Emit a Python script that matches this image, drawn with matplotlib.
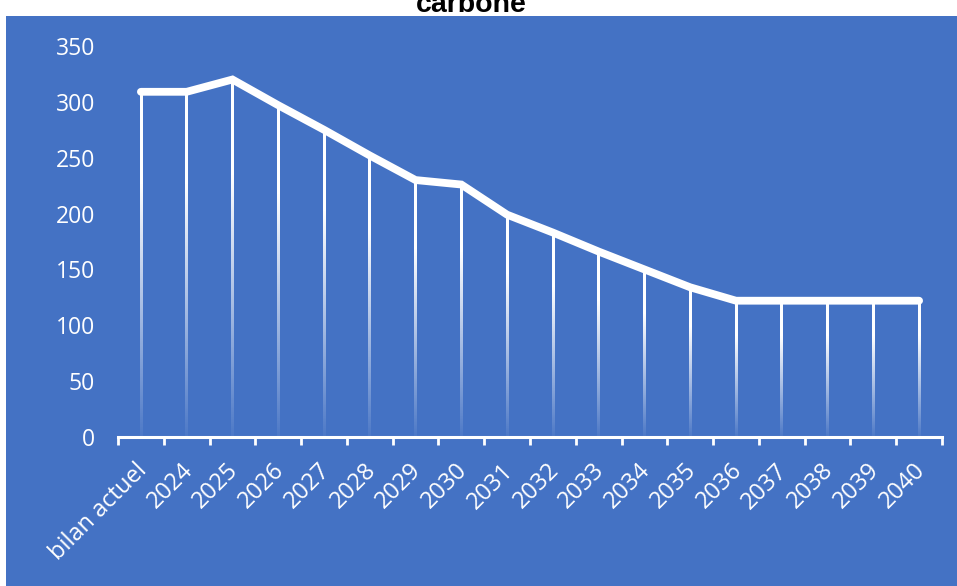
import numpy as np
import matplotlib
matplotlib.use("Agg")
import matplotlib.pyplot as plt
import matplotlib.transforms as mtransforms
from matplotlib.patches import Rectangle

# trajectory of the carbon footprint (tCO2e)
categories = ["bilan actuel", "2024", "2025", "2026", "2027", "2028", "2029", "2030",
              "2031", "2032", "2033", "2034", "2035", "2036", "2037", "2038", "2039", "2040"]
values = [309, 309, 320, 297, 275, 252, 230, 226, 199, 183, 166, 150, 134, 122, 122, 122, 122, 122]
yticks = [0, 50, 100, 150, 200, 250, 300, 350]

BLUE = "#4472C4"
plt.rcParams["font.family"] = ["Open Sans", "DejaVu Sans"]

fig = plt.figure(figsize=(9.57, 5.86), dpi=100)
fig.patch.set_facecolor("white")
fig.patches.append(Rectangle((6 / 957, 0), 1, 570 / 586, transform=fig.transFigure,
                             facecolor=BLUE, edgecolor="none", zorder=-5))
fig.text(0.493, 1 - 12 / 586, "carbone", ha="center", va="baseline",
         fontsize=20.5, fontweight="bold", family="Liberation Sans", color="black")

ax = fig.add_axes([118 / 957, 149 / 586, 824 / 957, 391 / 586])
ax.set_facecolor("none")
x = np.arange(len(categories))

# drop lines: white fading to transparent towards the axis
grad = np.ones((200, 1, 4))
grad[:, 0, 3] = np.clip(0.05 + 1.3 * np.linspace(0, 1, 200), 0, 1)
half_w = 1.3 / (824 / len(categories))
for xi, v in zip(x, values):
    ax.imshow(grad, origin="lower", aspect="auto", interpolation="bilinear",
              extent=(xi - half_w, xi + half_w, 0, v), zorder=2)

ax.plot(x, values, color="white", lw=5.6, solid_capstyle="round",
        solid_joinstyle="miter", zorder=3)

ax.set_xlim(-0.5, len(categories) - 0.5)
ax.set_ylim(0, 350)
ax.set_yticks(yticks)
ax.set_xticks(x)
ax.set_xticklabels(categories, rotation=45, ha="right", rotation_mode="anchor")
ax.set_xticks(np.arange(-0.5, len(categories)), minor=True)

for s in ["top", "right", "left"]:
    ax.spines[s].set_visible(False)
ax.spines["bottom"].set_color("white")
ax.spines["bottom"].set_linewidth(2.2)
ax.tick_params(axis="x", which="major", length=0, pad=12, labelsize=17, labelcolor="white")
ax.tick_params(axis="x", which="minor", length=6, width=2, color="white")
ax.tick_params(axis="y", length=0, pad=16.5, labelsize=16.5, labelcolor="white")

# nudge the slanted labels so their ends sit just under each category
shift = mtransforms.ScaledTranslation(-6 / 100, -5 / 100, fig.dpi_scale_trans)
for lab in ax.get_xticklabels():
    lab.set_transform(lab.get_transform() + shift)

fig.savefig("out.png", dpi=100)
